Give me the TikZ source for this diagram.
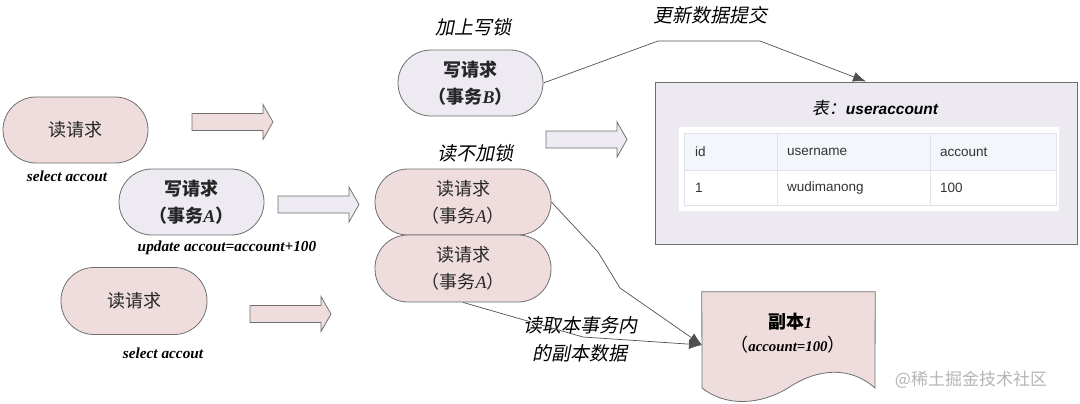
\documentclass[tikz,border=0pt]{standalone}
\usepackage{fontspec}
\setmainfont{Liberation Serif}
\newfontfamily\cjk{Noto Sans CJK SC}
\newfontfamily\cjksl{Noto Sans CJK SC}[FakeSlant=0.2]
\newfontfamily\tsans{Liberation Sans}
\usetikzlibrary{arrows.meta,calc}
\definecolor{pinkf}{HTML}{EFDDDD}
\definecolor{lavf}{HTML}{EDEAF1}
\definecolor{bord}{HTML}{6F6F6F}
\definecolor{boxf}{HTML}{ECEAF0}
\definecolor{hdrf}{HTML}{F3F6FA}
\definecolor{tline}{HTML}{E0E3E8}
\definecolor{ttext}{HTML}{333333}
\definecolor{connc}{HTML}{505050}
\definecolor{wmc}{HTML}{B5B5B5}
\tikzset{
  stad/.style={draw=bord, line width=0.8pt, rounded corners=33pt, minimum width=145pt,
    minimum height=66pt, inner sep=0pt, align=center, text=black!85,
    font=\cjk\fontsize{18}{27}\selectfont},
  lbl/.style={font=\fontsize{15.3}{18}\selectfont\bfseries\itshape, inner sep=0pt},
  ital/.style={font=\cjksl\fontsize{19}{28}\selectfont, inner sep=0pt, align=center},
  conn/.style={draw=connc, line width=0.7pt, -{Latex[length=13pt,width=10pt]}},
  ttxt/.style={font=\tsans\fontsize{13.5}{16}\selectfont, text=ttext, anchor=west, inner sep=0pt},
  barrow/.pic={\path[pic actions] (0,-8.5) -- (71,-8.5) -- (71,-17.5) -- (81,0) -- (71,17.5) -- (71,8.5) -- (0,8.5) -- cycle;},
  barrowst/.style={draw=bord, line width=0.8pt}
}
\begin{document}
\begin{tikzpicture}[x=1pt,y=-1pt]
\useasboundingbox (0,0) rectangle (1080,404);

% left column
\node[stad, fill=pinkf] (r1) at (75.5,130) {读请求};
\node[lbl] (l1) at (67,176) {select accout};
\node[stad, fill=lavf, font=\cjk\fontsize{18}{27}\selectfont\bfseries] (wA) at (191.5,202) {写请求\\（事务{\rmfamily\bfseries\itshape A}）};
\node[lbl] (l2) at (227,248) {update accout=account+100};
\node[stad, fill=pinkf, minimum width=146pt, minimum height=67pt] (r3) at (134,301) {读请求};
\node[lbl] (l3) at (163,353) {select accout};

% block arrows
\pic[barrowst, fill=pinkf] (a1) at (192,122) {barrow};
\pic[barrowst, fill=lavf] (a2) at (278,204.5) {barrow};
\pic[barrowst, fill=pinkf] (a3) at (250,314) {barrow};
\pic[barrowst, fill=lavf] (a4) at (546,139.5) {barrow};

% middle column
\node[ital] (t1) at (473,27) {加上写锁};
\node[stad, fill=lavf, font=\cjk\fontsize{18}{27}\selectfont\bfseries] (wB) at (470.5,83) {写请求\\（事务{\rmfamily\bfseries\itshape B}）};
\node[ital] (t2) at (475,153) {读不加锁};
\node[stad, fill=pinkf, minimum width=176pt] (rA1) at (463,202) {读请求\\（事务{\rmfamily\itshape A}）};
\node[stad, fill=pinkf, minimum width=176pt, minimum height=67pt] (rA2) at (463,268.5) {读请求\\（事务{\rmfamily\itshape A}）};
\node[ital] (t3) at (710,15) {更新数据提交};
\node[ital] (t4) at (580,339) {读取本事务内\\的副本数据};

% table box
\node[draw=bord, line width=0.9pt, fill=boxf, minimum width=422pt, minimum height=162pt, inner sep=0pt] (tbl) at (866,163) {};
\node[inner sep=0pt] (ttl) at (875,108) {{\cjksl\fontsize{17}{20}\selectfont 表：}{\tsans\fontsize{15.5}{18}\selectfont\bfseries\itshape useraccount}};
\fill[white] (679,127) rectangle (1059,211);
\fill[hdrf] (684,133) rectangle (1056,170);
\draw[tline, line width=0.8pt] (684,133) rectangle (1056,205) (684,170) -- (1056,170) (777,133) -- (777,205) (930,133) -- (930,205);
\node[ttxt] (h1) at (695,152) {id};
\node[ttxt] (h2) at (787,152) {username};
\node[ttxt] (h3) at (940,152) {account};
\node[ttxt] (c1) at (695,188) {1};
\node[ttxt] (c2) at (787,188) {wudimanong};
\node[ttxt] (c3) at (940,188) {100};

% document shape
\node[minimum width=173pt, minimum height=96pt, inner sep=0pt] (doc) at (788.5,340) {};
\draw[draw=bord, line width=0.8pt, fill=pinkf] (doc.north west) -- (doc.north east) -- (875,388)
  .. controls (850,366) and (818,368) .. (788,388)
  .. controls (760,405) and (726,407) .. (702,388) -- cycle;
\node[inner sep=0pt] (d1) at (790,322) {{\cjk\fontsize{18}{20}\selectfont\bfseries 副本}{\fontsize{16}{18}\selectfont\bfseries\itshape 1}};
\node[inner sep=0pt] (d2) at (788,345) {{\cjk\fontsize{18}{20}\selectfont （}{\fontsize{14.8}{18}\selectfont\bfseries\itshape account=100}{\cjk\fontsize{18}{20}\selectfont ）}};
\coordinate (dtip) at (702,345);

% connectors
\draw[conn] (wB.east) -- (658,41) -- (760,41) -- (tbl.north);
\draw[conn] (rA1.east) -- (598,252) -- (620,288) -- (dtip);
\draw[conn] (rA2.south) -- (583,337) -- (dtip);

% watermark
\node[text=wmc, font=\cjk\fontsize{17}{20}\selectfont, inner sep=0pt] (wm) at (971,380) {@稀土掘金技术社区};
\end{tikzpicture}
\end{document}
